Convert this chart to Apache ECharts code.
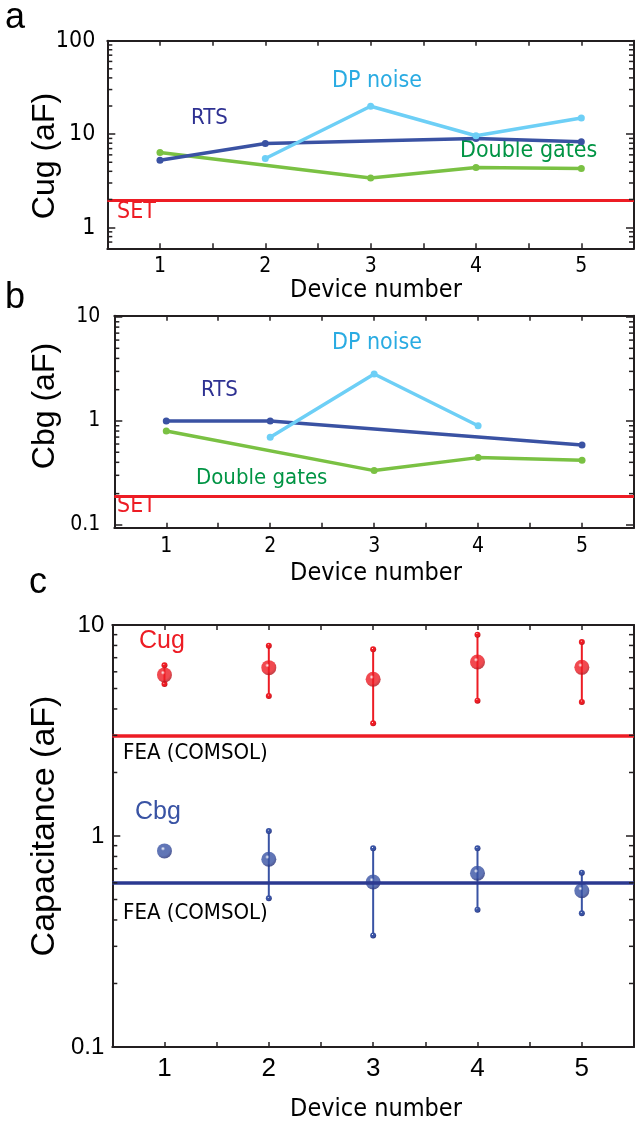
<!DOCTYPE html>
<html>
<head>
<meta charset="utf-8">
<script src="https://cdn.jsdelivr.net/npm/echarts@6/dist/echarts.min.js"></script>
<style>
  html, body { margin: 0; padding: 0; background: #fff; }
  #chart { width: 637px; height: 1127px; }
</style>
</head>
<body>
<div id="chart"></div>
<script>
// device numbers on the x axis
var devices = [1, 2, 3, 4, 5];

// panel a: Cug (aF)
var cugRTS = [5.26, 7.94, null, 9.0, 8.27];
var cugDP = [null, 5.48, 19.9, 9.6, 14.9];
var cugDouble = [6.36, null, 3.4, 4.4, 4.29];
var cugSET = 1.95;

// panel b: Cbg (aF)
var cbgRTS = [1.0, 1.0, null, null, 0.588];
var cbgDP = [null, 0.697, 2.83, 0.9, null];
var cbgDouble = [0.8, null, 0.333, 0.444, 0.42];
var cbgSET = 0.194;

// panel c: capacitance with error bars
var cugMean = [5.8, 6.28, 5.53, 6.68, 6.3];
var cugHigh = [6.45, 7.98, 7.67, 9.0, 8.3];
var cugLow = [5.25, 4.61, 3.42, 4.38, 4.32];
var cbgMean = [0.85, 0.776, 0.605, 0.666, 0.55];
var cbgHigh = [null, 1.056, 0.874, 0.874, 0.67];
var cbgLow = [null, 0.507, 0.338, 0.447, 0.43];
var feaCug = 3.0;
var feaCbg = 0.6;

// minor ticks of the log axes
var minorA = [0.7, 0.8, 0.9, 2, 3, 4, 5, 6, 7, 8, 9, 20, 30, 40, 50, 60, 70, 80, 90];
var minorBC = [0.2, 0.3, 0.4, 0.5, 0.6, 0.7, 0.8, 0.9, 2, 3, 4, 5, 6, 7, 8, 9];

var AXIS = '#231f20';
var RED = '#ed1c24';
var NAVY = '#3a52a3';
var CYAN = '#6dcff6';
var LGREEN = '#7ac143';
var COND = "'DejaVu Sans Condensed', 'Liberation Sans Narrow', 'DejaVu Sans', sans-serif";
var ARIAL = "'Liberation Sans', Arial, sans-serif";

var chart = echarts.init(document.getElementById('chart'), null, { renderer: 'canvas' });

function pair(ys) {
  return devices.map(function (d, i) { return [d, ys[i]]; });
}

function logLabel(v) {
  var p = Math.log10(v);
  if (Math.abs(p - Math.round(p)) > 1e-6) return '';
  var r = Math.round(p);
  return r >= 0 ? String(Math.pow(10, r)) : (Math.pow(10, r)).toFixed(-r);
}

function xAxisOf(grid, top, font, size, margin) {
  return {
    type: 'value', gridIndex: grid, min: 0.5, max: 5.5, interval: 0.5,
    position: top ? 'top' : 'bottom',
    axisLine: { lineStyle: { color: AXIS, width: 2 } },
    axisTick: { inside: true, length: 5, lineStyle: { color: AXIS, width: 1.5 } },
    axisLabel: {
      show: !top, margin: margin, color: '#000', fontSize: size, fontFamily: font,
      formatter: function (v) { return Number.isInteger(v) ? String(v) : ''; }
    },
    splitLine: { show: false }
  };
}

function yAxisOf(grid, right, min, max, font, size, margin) {
  return {
    type: 'log', logBase: 10, gridIndex: grid, min: min, max: max,
    position: right ? 'right' : 'left',
    axisLine: { lineStyle: { color: AXIS, width: 2 } },
    axisTick: { inside: true, length: 8, lineStyle: { color: AXIS, width: 1.5 } },
    axisLabel: { show: !right, margin: margin, color: '#000', fontSize: size, fontFamily: font, formatter: logLabel },
    splitLine: { show: false }
  };
}

function minorTicks(params, api) {
  var cs = params.coordSys;
  var y = api.coord([1, api.value(1)])[1];
  var st = { stroke: AXIS, lineWidth: 1.5 };
  return {
    type: 'group',
    children: [
      { type: 'line', shape: { x1: cs.x, y1: y, x2: cs.x + 5, y2: y }, style: st },
      { type: 'line', shape: { x1: cs.x + cs.width, y1: y, x2: cs.x + cs.width - 5, y2: y }, style: st }
    ]
  };
}

function ball(base, dark) {
  return new echarts.graphic.RadialGradient(0.4, 0.35, 0.65, [
    { offset: 0, color: '#ffffff' },
    { offset: 0.22, color: base },
    { offset: 0.7, color: base },
    { offset: 1, color: dark }
  ]);
}

function errorBars(base, dark) {
  return function (params, api) {
    var x = api.value(0), lo = api.value(1), hi = api.value(2);
    if (isNaN(lo) || isNaN(hi)) return null;
    var t = api.coord([x, hi]), b = api.coord([x, lo]);
    return {
      type: 'group',
      children: [
        { type: 'line', shape: { x1: t[0], y1: t[1], x2: b[0], y2: b[1] }, style: { stroke: base, lineWidth: 2 } },
        { type: 'circle', shape: { cx: t[0], cy: t[1], r: 3 }, style: { fill: ball(base, dark) } },
        { type: 'circle', shape: { cx: b[0], cy: b[1], r: 3 }, style: { fill: ball(base, dark) } }
      ]
    };
  };
}

function lineSeries(name, xi, ys, color) {
  return {
    name: name, type: 'line', xAxisIndex: xi, yAxisIndex: xi, data: pair(ys),
    connectNulls: true, symbol: 'circle', symbolSize: 7, showSymbol: true,
    lineStyle: { color: color, width: 3.5 }, itemStyle: { color: color }, z: 3
  };
}

function hLine(xi, value, color, width) {
  return {
    type: 'line', xAxisIndex: xi, yAxisIndex: xi, data: [],
    markLine: {
      silent: true, symbol: 'none', label: { show: false },
      lineStyle: { color: color, width: width, type: 'solid' },
      data: [{ yAxis: value }]
    }
  };
}

function minorSeries(xi, vals) {
  return {
    type: 'custom', xAxisIndex: xi, yAxisIndex: xi, silent: true, clip: false,
    data: vals.map(function (v) { return [1, v]; }),
    encode: { x: 0, y: 1 }, renderItem: minorTicks, z: 5
  };
}

function txt(x, y, text, color, size, font, align) {
  return {
    type: 'text', x: x, y: y,
    style: { text: text, fill: color, fontSize: size, fontFamily: font, textAlign: align || 'left', textVerticalAlign: 'top' }
  };
}

function vtitle(x, y, text, size) {
  return {
    type: 'text', x: x, y: y, rotation: Math.PI / 2,
    style: { text: text, fill: '#000', fontSize: size, fontFamily: ARIAL, textAlign: 'center', textVerticalAlign: 'middle' }
  };
}

var option = {
  animation: false,
  backgroundColor: '#fff',
  grid: [
    { left: 107.3, top: 40.7, width: 529.5, height: 207.6 },
    { left: 114.3, top: 315.7, width: 523.5, height: 212 },
    { left: 112.3, top: 625, width: 523.3, height: 422 }
  ],
  xAxis: [
    xAxisOf(0, false, COND, 21, 8), xAxisOf(0, true, COND, 21, 8),
    xAxisOf(1, false, COND, 21, 8), xAxisOf(1, true, COND, 21, 8),
    xAxisOf(2, false, ARIAL, 26, 9), xAxisOf(2, true, ARIAL, 26, 9)
  ],
  yAxis: [
    yAxisOf(0, false, 0.6, 100, COND, 23, 12), yAxisOf(0, true, 0.6, 100, COND, 23, 12),
    yAxisOf(1, false, 0.094, 10.3, COND, 21, 14), yAxisOf(1, true, 0.094, 10.3, COND, 21, 14),
    yAxisOf(2, false, 0.1, 10, ARIAL, 24, 8), yAxisOf(2, true, 0.1, 10, ARIAL, 24, 8)
  ],
  series: [
    minorSeries(0, minorA), minorSeries(2, minorBC), minorSeries(4, minorBC),
    hLine(0, cugSET, RED, 3),
    lineSeries('Double gates', 0, cugDouble, LGREEN),
    lineSeries('RTS', 0, cugRTS, NAVY),
    lineSeries('DP noise', 0, cugDP, CYAN),
    hLine(2, cbgSET, RED, 3),
    lineSeries('Double gates', 2, cbgDouble, LGREEN),
    lineSeries('RTS', 2, cbgRTS, NAVY),
    lineSeries('DP noise', 2, cbgDP, CYAN),
    hLine(4, feaCug, RED, 3.5),
    hLine(4, feaCbg, '#2b3990', 3.5),
    {
      type: 'custom', xAxisIndex: 4, yAxisIndex: 4, silent: true,
      data: devices.map(function (d, i) { return [d, cugLow[i], cugHigh[i]]; }),
      encode: { x: 0, y: [1, 2] }, renderItem: errorBars(RED, '#b5121b'), z: 3
    },
    {
      type: 'custom', xAxisIndex: 4, yAxisIndex: 4, silent: true,
      data: devices.map(function (d, i) { return [d, cbgLow[i], cbgHigh[i]]; }),
      encode: { x: 0, y: [1, 2] }, renderItem: errorBars('#3953a4', '#25317a'), z: 3
    },
    {
      type: 'scatter', xAxisIndex: 4, yAxisIndex: 4, data: pair(cugMean), symbolSize: 15,
      itemStyle: { color: ball(RED, '#b5121b') }, z: 4
    },
    {
      type: 'scatter', xAxisIndex: 4, yAxisIndex: 4, data: pair(cbgMean), symbolSize: 15,
      itemStyle: { color: ball('#3953a4', '#25317a') }, z: 4
    }
  ],
  graphic: [
    txt(5, 0, 'a', '#000', 36, ARIAL),
    txt(5, 280, 'b', '#000', 36, ARIAL),
    txt(29, 565, 'c', '#000', 36, ARIAL),
    vtitle(45, 156, 'Cug (aF)', 32),
    vtitle(45, 406, 'Cbg (aF)', 32),
    vtitle(45, 826, 'Capacitance (aF)', 34),
    txt(376, 278, 'Device number', '#000', 25, COND, 'center'),
    txt(376, 561, 'Device number', '#000', 25, COND, 'center'),
    txt(376, 1097, 'Device number', '#000', 25, COND, 'center'),
    // panel a annotations
    txt(191, 107, 'RTS', '#2e3192', 22, COND),
    txt(332, 70, 'DP noise', '#29abe2', 23, COND),
    txt(460, 140, 'Double gates', '#009444', 23, COND),
    txt(117, 201, 'SET', RED, 23, COND),
    // panel b annotations
    txt(201, 379, 'RTS', '#2e3192', 22, COND),
    txt(332, 332, 'DP noise', '#29abe2', 23, COND),
    txt(196, 467, 'Double gates', '#009444', 22, COND),
    txt(117, 495, 'SET', RED, 23, COND),
    // panel c annotations
    txt(139, 629, 'Cug', RED, 25, ARIAL),
    txt(135, 800, 'Cbg', '#3953a4', 25, ARIAL),
    txt(123, 742, 'FEA (COMSOL)', '#000', 22, COND),
    txt(123, 902, 'FEA (COMSOL)', '#000', 22, COND)
  ]
};

chart.setOption(option);
</script>
</body>
</html>
